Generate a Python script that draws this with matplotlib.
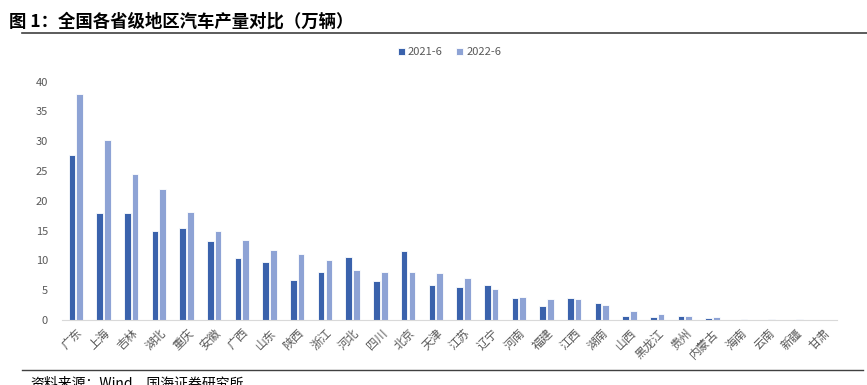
import matplotlib
matplotlib.use("Agg")
import matplotlib.pyplot as plt
import numpy as np

plt.rcParams['font.family'] = ['Noto Sans CJK SC', 'DejaVu Sans']

# provinces and production (万辆)
provinces = ['广东', '上海', '吉林', '湖北', '重庆', '安徽', '广西', '山东', '陕西', '浙江',
             '河北', '四川', '北京', '天津', '江苏', '辽宁', '河南', '福建', '江西', '湖南',
             '山西', '黑龙江', '贵州', '内蒙古', '海南', '云南', '新疆', '甘肃']
prod_2021 = [27.6, 18.0, 18.0, 14.9, 15.4, 13.2, 10.4, 9.7, 6.7, 8.1,
             10.6, 6.6, 11.5, 5.9, 5.6, 5.9, 3.7, 2.4, 3.7, 2.85,
             0.6, 0.5, 0.6, 0.4, 0.0, 0.0, 0.05, 0.0]
prod_2022 = [38.0, 30.2, 24.5, 21.9, 18.1, 15.0, 13.4, 11.8, 11.1, 10.0,
             8.4, 8.1, 8.1, 7.9, 7.1, 5.2, 3.9, 3.5, 3.5, 2.5,
             1.45, 1.0, 0.7, 0.55, 0.2, 0.2, 0.2, 0.05]

dark = '#3A62AC'
light = '#8EA3D5'

fig = plt.figure(figsize=(8.67, 3.85), dpi=100)
ax = fig.add_axes([0.0715, 0.169, 0.894, 0.619])

x = np.arange(len(provinces))
w = 0.24
ax.bar(x - w / 2 - 0.02, prod_2021, width=w, color=dark, edgecolor='white', linewidth=0.6, label='2021-6')
ax.bar(x + w / 2 + 0.02, prod_2022, width=w, color=light, edgecolor='white', linewidth=0.6, label='2022-6')

ax.set_xlim(-0.5, len(provinces) - 0.5)
ax.set_ylim(0, 40)
ax.set_yticks(range(0, 41, 5))
ax.set_xticks(x)
ax.set_xticklabels(provinces, rotation=45, ha='right', rotation_mode='anchor', fontsize=8.5, color='#595959')
ax.tick_params(axis='y', length=0, labelsize=8, labelcolor='#595959', pad=10)
ax.tick_params(axis='x', length=0, pad=5)
for s in ['top', 'right', 'left']:
    ax.spines[s].set_visible(False)
ax.spines['bottom'].set_color('#D9D9D9')

ax.legend(loc='lower center', bbox_to_anchor=(0.5, 1.06), ncol=2, frameon=False,
          fontsize=8, labelcolor='#595959', handlelength=0.6, handleheight=0.6,
          handletextpad=0.3, columnspacing=1.2)

# title and source
fig.text(0.01, 0.945, '图 1：全国各省级地区汽车产量对比（万辆）', fontsize=12.5, fontweight='bold', va='center')
fig.add_artist(plt.Line2D([0.025, 1.0], [0.915, 0.915], color='#404040', linewidth=1.2))
fig.add_artist(plt.Line2D([0.025, 0.995], [0.038, 0.038], color='#404040', linewidth=1.0))
fig.text(0.035, 0.004, '资料来源：Wind，国海证券研究所', fontsize=10, va='center')

fig.savefig('out.png', dpi=100)
